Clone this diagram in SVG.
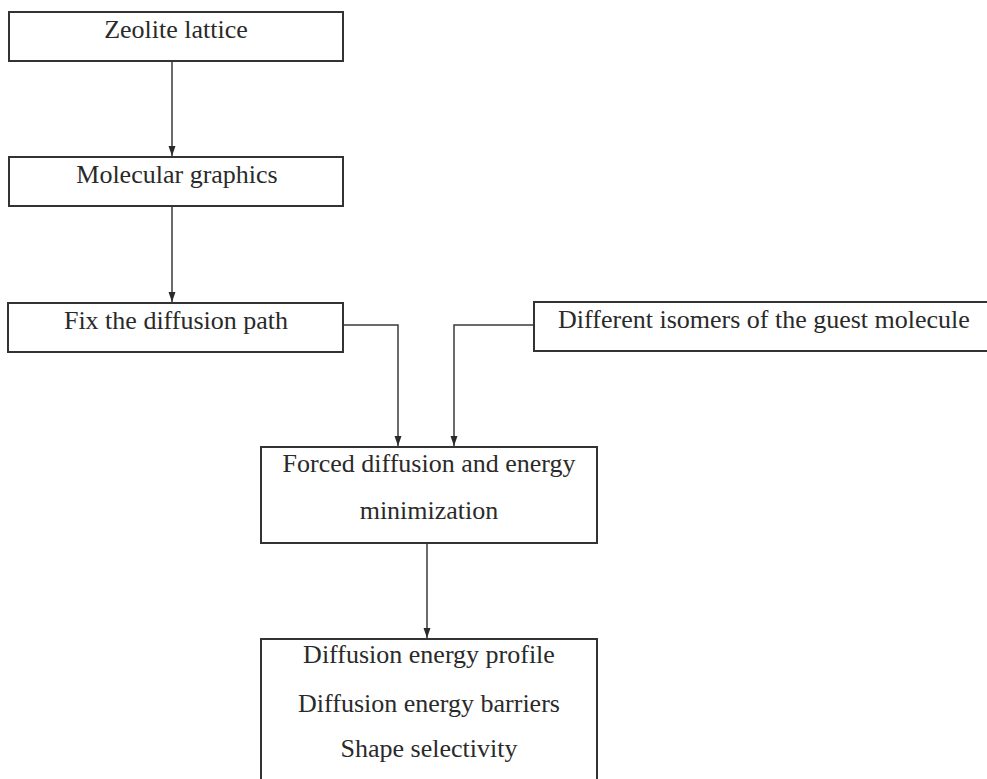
<svg xmlns="http://www.w3.org/2000/svg" width="987" height="779" viewBox="0 0 987 779">
  <style>
    .box { fill: #ffffff; stroke: #333333; stroke-width: 2; }
    .label { font-family: "Liberation Serif", "Times New Roman", serif; font-size: 26px; fill: #2a2a2a; text-anchor: middle; }
    .edge { fill: none; stroke: #3a3a3a; stroke-width: 1.5; }
  </style>
  <defs>
    <marker id="arrow" viewBox="0 0 10 10" refX="10" refY="5" markerWidth="10" markerHeight="10" markerUnits="userSpaceOnUse" orient="auto">
      <path d="M0,1.5 L10,5 L0,8.5 Z" fill="#2a2a2a"/>
    </marker>
  </defs>
  <rect width="987" height="779" fill="#ffffff"/>

  <g id="connectors">
    <path class="edge" d="M172,61 V156" marker-end="url(#arrow)"/>
    <path class="edge" d="M172,206 V302" marker-end="url(#arrow)"/>
    <path class="edge" d="M343,325 H398 V446" marker-end="url(#arrow)"/>
    <path class="edge" d="M534,325 H454 V446" marker-end="url(#arrow)"/>
    <path class="edge" d="M427,543 V638" marker-end="url(#arrow)"/>
  </g>

  <g id="zeolite-lattice">
    <rect class="box" x="9" y="12" width="334" height="49"/>
    <text class="label" x="176" y="38">Zeolite lattice</text>
  </g>

  <g id="molecular-graphics">
    <rect class="box" x="9" y="157" width="334" height="49"/>
    <text class="label" x="177" y="183">Molecular graphics</text>
  </g>

  <g id="fix-diffusion-path">
    <rect class="box" x="8" y="303" width="335" height="49"/>
    <text class="label" x="176" y="329">Fix the diffusion path</text>
  </g>

  <g id="guest-isomers">
    <rect class="box" x="534" y="302" width="462" height="49"/>
    <text class="label" x="764" y="328">Different isomers of the guest molecule</text>
  </g>

  <g id="forced-diffusion">
    <rect class="box" x="261" y="447" width="336" height="96"/>
    <text class="label" x="429" y="472">Forced diffusion and energy</text>
    <text class="label" x="429" y="519">minimization</text>
  </g>

  <g id="results">
    <rect class="box" x="261" y="639" width="336" height="150"/>
    <text class="label" x="429" y="663">Diffusion energy profile</text>
    <text class="label" x="429" y="712">Diffusion energy barriers</text>
    <text class="label" x="429" y="757">Shape selectivity</text>
  </g>
</svg>
